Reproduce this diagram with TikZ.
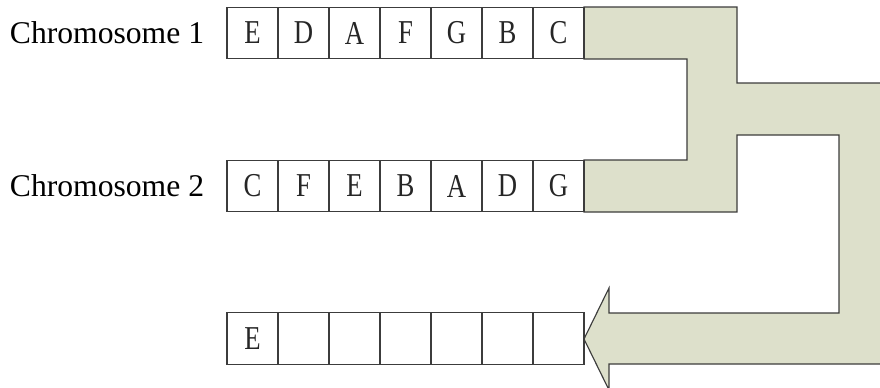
\documentclass[tikz,border=0pt]{standalone}
\usepackage{fontspec}
\setmainfont{Liberation Serif}
\newfontfamily\genefont[FakeStretch=0.8]{Liberation Serif}
\usepackage{tikz}
\usetikzlibrary{positioning}
\definecolor{bandfill}{RGB}{221,224,203}
\definecolor{edgegray}{RGB}{60,60,60}

\begin{document}
\begin{tikzpicture}[x=0.02cm, y=-0.02cm,
    gene/.style={draw=edgegray, line width=0.65pt, minimum width=1.02cm, minimum height=1.03cm,
                 inner sep=0pt, font=\genefont\fontsize{19}{20}\selectfont, text=black!85},
    chrlabel/.style={inner sep=0pt, font=\fontsize{18}{20}\selectfont},
    band/.style={fill=bandfill, draw=edgegray, line width=0.65pt, line join=miter}]
    \useasboundingbox (0,0) rectangle (880,387);
    % 交叉带 (先画, 在格子下面)
    \begin{scope}
        \clip (0,0) rectangle (880,387);
        \draw[band] (584,7) -- (737,7) -- (737,83) -- (895,83) -- (895,364) -- (609,364)
            -- (609,390) -- (584,339) -- (609,288) -- (609,313) -- (839,313) -- (839,135)
            -- (737,135) -- (737,212) -- (584,212) -- (584,160) -- (687,160) -- (687,59)
            -- (584,59) -- cycle;
    \end{scope}
    % 染色体1
    \foreach \g [count=\i] in {E,D,A,F,G,B,C} {
        \node[gene] (p\i) at ({227+25.5+(\i-1)*51},33) {\g};
    }
    % 染色体2
    \foreach \g [count=\i] in {C,F,E,B,A,D,G} {
        \node[gene] (q\i) at ({227+25.5+(\i-1)*51},186) {\g};
    }
    % 子代
    \foreach \g [count=\i] in {E,,,,,,} {
        \node[gene] (c\i) at ({227+25.5+(\i-1)*51},338.5) {\g};
    }
    \node[chrlabel, left=0.44cm of p1] (chr1) {Chromosome 1};
    \node[chrlabel, left=0.44cm of q1] (chr2) {Chromosome 2};
\end{tikzpicture}
\end{document}
